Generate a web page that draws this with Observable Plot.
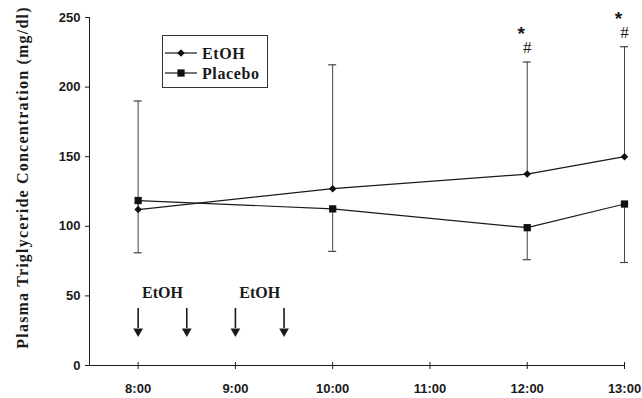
<!DOCTYPE html>
<html><head><meta charset="utf-8">
<script src="https://cdn.jsdelivr.net/npm/d3@7"></script>
<script src="https://cdn.jsdelivr.net/npm/@observablehq/plot@0.6"></script>
<style>
body{margin:0;background:#fff}
#wrap{position:relative;width:642px;height:398px}
#legend{position:absolute;left:162px;top:35px}
.ylab text{letter-spacing:1.2px}
.legtext{letter-spacing:0.6px}
</style>
</head><body><div id="wrap"></div>
<script>
// Data (mg/dl)
const times = [8, 10, 12, 13];
const etoh = [112, 127, 137.5, 150];
const etohUpper = [190, 216, 218, 229];
const placebo = [118.5, 112.5, 99, 116];
const placeboLower = [81, 82, 76, 74];
const tickHours = [8, 9, 10, 11, 12, 13];
const yTicks = [0, 50, 100, 150, 200, 250];
const sigTimes = [12, 13];
const doseTimes = [8, 8.5, 9, 9.5];
const doseLabelTimes = [8.25, 9.25];
const doseLabel = "EtOH";
const arrowFrom = 41, arrowTo = 24.5, doseLabelY = 52;
const xDomain = [7.5, 13];
const yDomain = [0, 250];
const seriesNames = ["EtOH", "Placebo"];
const yLabel = "Plasma Triglyceride Concentration (mg/dl)";

const rows = times.map((t, i) => ({t, etoh: etoh[i], up: etohUpper[i], placebo: placebo[i], lo: placeboLower[i]}));
const sigRows = rows.filter(r => sigTimes.includes(r.t));

const serif = "'Liberation Serif','Times New Roman',serif";
const sans = "'Liberation Sans',Arial,sans-serif";
const ink = "#1a1a1a";

const chart = Plot.plot({
  width: 642, height: 398,
  marginLeft: 89, marginRight: 18, marginTop: 17, marginBottom: 33,
  x: {domain: xDomain},
  y: {domain: yDomain},
  style: {fontFamily: sans, fontSize: "13px", fontWeight: "bold", color: ink, background: "#fff"},
  marks: [
    Plot.axisY({ticks: yTicks, tickSize: 4, tickPadding: 5, label: null, fontWeight: "bold"}),
    Plot.axisX({ticks: tickHours, tickSize: 0, tickPadding: 18, label: null, tickFormat: d => d + ":00"}),
    Plot.ruleX([xDomain[0]], {stroke: ink, strokeWidth: 1}),
    Plot.ruleY([yDomain[0]], {stroke: ink, strokeWidth: 1}),
    Plot.ruleX(tickHours, {y1: 0, y2: 0, insetTop: -3, insetBottom: -4, stroke: ink}),
    Plot.text([yLabel], {frameAnchor: "left", dx: -67, dy: -14, rotate: -90, textAnchor: "middle", fontFamily: serif, fontSize: 16, fontWeight: "bold", fill: ink, className: "ylab"}),
    // error bars
    Plot.ruleX(rows, {x: "t", y1: "etoh", y2: "up", stroke: "#444", strokeWidth: 1}),
    Plot.ruleY(rows, {x1: "t", x2: "t", y: "up", insetLeft: -4, insetRight: -4, stroke: "#444", strokeWidth: 1.2}),
    Plot.ruleX(rows, {x: "t", y1: "placebo", y2: "lo", stroke: "#444", strokeWidth: 1}),
    Plot.ruleY(rows, {x1: "t", x2: "t", y: "lo", insetLeft: -4, insetRight: -4, stroke: "#444", strokeWidth: 1.2}),
    // lines
    Plot.line(rows, {x: "t", y: "etoh", stroke: ink, strokeWidth: 1.2}),
    Plot.line(rows, {x: "t", y: "placebo", stroke: ink, strokeWidth: 1.2}),
    Plot.dot(rows, {x: "t", y: "etoh", symbol: "diamond2", r: 3.4, fill: "#111", stroke: "none"}),
    Plot.dot(rows, {x: "t", y: "placebo", symbol: "square", r: 4.1, fill: "#111", stroke: "none"}),
    // significance marks
    Plot.text(sigRows, {x: "t", y: "up", text: () => "#", dy: -14, fontFamily: serif, fontSize: 17, fontWeight: "normal", fill: ink}),
    Plot.text(sigRows, {x: "t", y: "up", text: () => "*", dy: -28, dx: -6, fontFamily: sans, fontSize: 19, fontWeight: "bold", fill: ink}),
    // dosing arrows
    Plot.ruleX(doseTimes, {y1: arrowFrom, y2: arrowTo + 2, stroke: ink, strokeWidth: 1.6}),
    Plot.dot(doseTimes, {x: d => d, y: arrowTo, symbol: "triangle", rotate: 180, r: 3.6, fill: ink, stroke: "none"}),
    Plot.text(doseLabelTimes, {x: d => d, y: doseLabelY, text: () => doseLabel, fontFamily: serif, fontSize: 16, fontWeight: "bold", fill: ink})
  ]
});

const wrap = document.getElementById("wrap");
wrap.appendChild(chart);

// Legend
const lw = 106, lh = 53;
const leg = d3.create("svg").attr("id", "legend").attr("width", lw).attr("height", lh);
leg.append("rect").attr("x", 0.5).attr("y", 0.5).attr("width", lw - 1).attr("height", lh - 1)
  .attr("fill", "#fff").attr("stroke", "#333").attr("stroke-width", 1);
const symbols = [d3.symbolDiamond2, d3.symbolSquare];
const sizes = [Math.PI * 3.4 * 3.4, Math.PI * 4.1 * 4.1];
seriesNames.forEach((name, i) => {
  const cy = 18 + i * 20;
  leg.append("line").attr("x1", 3).attr("x2", 35).attr("y1", cy).attr("y2", cy).attr("stroke", ink).attr("stroke-width", 1.2);
  leg.append("path").attr("d", d3.symbol(symbols[i], sizes[i])()).attr("transform", `translate(19,${cy})`).attr("fill", "#111");
  leg.append("text").attr("class", "legtext").attr("x", 40).attr("y", cy).attr("dy", "0.35em").attr("font-family", serif)
    .attr("font-size", 16).attr("font-weight", "bold").attr("fill", ink).text(name);
});
wrap.appendChild(leg.node());
</script>
</body></html>
